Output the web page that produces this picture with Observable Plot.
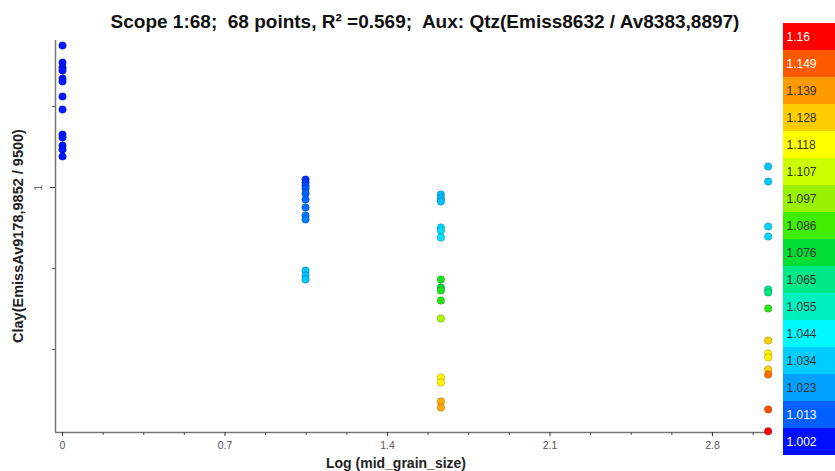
<!DOCTYPE html>
<html><head><meta charset="utf-8">
<script src="https://cdn.jsdelivr.net/npm/d3@7"></script>
<script src="https://cdn.jsdelivr.net/npm/@observablehq/plot@0.6"></script>
<style>
body{margin:0;background:#fff;}
#wrap{position:relative;width:835px;height:471px;overflow:hidden;font-family:"Liberation Sans",Arial,sans-serif;}
#title{position:absolute;left:425px;top:11px;transform:translateX(-50%);white-space:nowrap;font-weight:bold;font-size:19px;line-height:22px;color:#111;}
#xlab{position:absolute;left:396px;top:455px;transform:translateX(-50%);white-space:nowrap;font-weight:bold;font-size:14px;line-height:16px;color:#222;}
#ylab{position:absolute;left:18px;top:236px;transform:translate(-50%,-50%) rotate(-90deg);white-space:nowrap;font-weight:bold;font-size:14.5px;color:#222;}
#main{position:absolute;left:0;top:0;}
#legend{position:absolute;left:783px;top:19px;}
</style></head>
<body><div id="wrap">
<div id="main"></div>
<div id="legend"></div>
<div id="title">Scope 1:68;&nbsp; 68 points, R² =0.569;&nbsp; Aux: Qtz(Emiss8632 / Av8383,8897)</div>
<div id="xlab">Log (mid_grain_size)</div>
<div id="ylab">Clay(EmissAv9178,9852 / 9500)</div>
</div>
<script>
// Data
const xCluster0 = [0,0,0,0,0,0,0,0,0,0,0,0,0];
const yCluster0 = [1.1753,1.1543,1.1481,1.1444,1.1346,1.1309,1.1123,1.0963,1.0654,1.0617,1.0519,1.0469,1.0383];
const cCluster0 = [1.003,1.003,1.003,1.003,1.003,1.003,1.003,1.003,1.003,1.003,1.003,1.003,1.003];

const xCluster1 = [1.047,1.047,1.047,1.047,1.047,1.047,1.047,1.047,1.047,1.047,1.047,1.047];
const yCluster1 = [1.0099,1.0062,1.0025,0.9988,0.9926,0.9852,0.9753,0.9654,0.9605,0.8975,0.8914,0.8864];
const cCluster1 = [1.006,1.008,1.010,1.012,1.013,1.014,1.015,1.017,1.018,1.032,1.031,1.033];

const xCluster2 = [1.63,1.63,1.63,1.63,1.63,1.63,1.63,1.63,1.63,1.63,1.63,1.63,1.63,1.63,1.63];
const yCluster2 = [0.9914,0.9864,0.9827,0.9506,0.9469,0.9383,0.8864,0.8765,0.8728,0.8605,0.8383,0.7654,0.7593,0.7358,0.7284];
const cCluster2 = [1.030,1.030,1.031,1.037,1.038,1.039,1.080,1.076,1.080,1.082,1.101,1.119,1.120,1.135,1.136];

const xCluster3 = [3.04,3.04,3.04,3.04,3.04,3.04,3.04,3.04,3.04,3.04,3.04,3.04,3.04,3.04];
const yCluster3 = [1.0259,1.0074,0.9519,0.9395,0.8741,0.8704,0.8506,0.8111,0.7951,0.7901,0.7753,0.7691,0.7259,0.6990];
const cCluster3 = [1.033,1.033,1.036,1.036,1.065,1.066,1.082,1.127,1.120,1.121,1.127,1.146,1.150,1.160];

const xTickValues = [0,0.7,1.4,2.1,2.8];
const xMinorTicks = [0.175,0.35,0.525,0.875,1.05,1.225,1.575,1.75,1.925,2.275,2.45,2.625,2.975];
const yTickValues = [1];
const yTickLabels = ["1"];
const yMinorTicks = [1.1,0.9,0.8];

const legendValues = [1.002,1.013,1.023,1.034,1.044,1.055,1.065,1.076,1.086,1.097,1.107,1.118,1.128,1.139,1.149,1.16];
const legendLabels = ["1.002","1.013","1.023","1.034","1.044","1.055","1.065","1.076","1.086","1.097","1.107","1.118","1.128","1.139","1.149","1.16"];
const legendColors = ["#0010ff","#0060ff","#00a0ff","#00ccff","#00f8ff","#00f0c0","#00e888","#00dd33","#40ee00","#99f000","#ccff00","#ffff00","#ffcc00","#ff9a00","#ff5a00","#ff0000"];

const points = [];
[[xCluster0,yCluster0,cCluster0],[xCluster1,yCluster1,cCluster1],[xCluster2,yCluster2,cCluster2],[xCluster3,yCluster3,cCluster3]]
  .forEach(([xs,ys,cs]) => xs.forEach((x,i) => points.push({x, y: ys[i], c: cs[i]})));

const colorOpts = {type: "linear", domain: legendValues, range: legendColors, clamp: true};
const xMin = -0.0302, xMax = 3.05, yMin = 0.6975, yMax = 1.1815;

const W = 835, H = 471;
const main = Plot.plot({
  width: W, height: H,
  marginLeft: 55, marginRight: 65, marginTop: 40, marginBottom: 39,
  style: {fontFamily: "'Liberation Sans Narrow','Liberation Sans',Arial,sans-serif", fontSize: "10px", color: "#444", background: "transparent"},
  x: {domain: [xMin, xMax], axis: null},
  y: {domain: [yMin, yMax], axis: null},
  color: colorOpts,
  marks: [
    Plot.ruleX([xMin], {stroke: "#777", strokeWidth: 1.5}),
    Plot.ruleY([yMin], {stroke: "#777", strokeWidth: 1.5}),
    Plot.axisX({ticks: xTickValues, tickSize: 4, tickPadding: 5, tickFormat: d => String(d), label: null, stroke: "#333", fill: "#555", fontSize: 10.5}),
    Plot.axisX({ticks: xMinorTicks, tickSize: 3, tickFormat: () => "", label: null, stroke: "#555"}),
    Plot.axisY({ticks: yTickValues, tickSize: 5, tickFormat: () => "", label: null, stroke: "#333"}),
    Plot.text(yTickValues, {x: () => xMin, y: d => d, text: (d, i) => yTickLabels[i], dx: -17, rotate: -90, fontSize: 10.5, fill: "#555"}),
    Plot.axisY({ticks: yMinorTicks, tickSize: 3, tickFormat: () => "", label: null, stroke: "#555"}),
    Plot.dot(points, {x: "x", y: "y", fill: "c", r: 3.8, stroke: "#000", strokeOpacity: 0.25, strokeWidth: 0.8})
  ]
});
document.getElementById("main").appendChild(main);

const legendData = legendValues.map((v,i) => ({v, label: legendLabels[i], light: (i <= 1 || i >= 14)}));
const legend = Plot.plot({
  width: 52, height: 440,
  margin: 0,
  style: {fontFamily: "'Liberation Sans Narrow','Liberation Sans',Arial,sans-serif", background: "transparent"},
  y: {type: "band", domain: legendValues.slice().reverse(), axis: null, padding: 0},
  color: colorOpts,
  marks: [
    Plot.cell(legendData, {y: "v", fill: "v", inset: 0}),
    Plot.text(legendData, {y: "v", text: "label", frameAnchor: "left", dx: 3, textAnchor: "start", fontSize: 12, fill: d => d.light ? "#ffffff" : "#333333"})
  ]
});
document.getElementById("legend").appendChild(legend);
</script>
</body></html>
